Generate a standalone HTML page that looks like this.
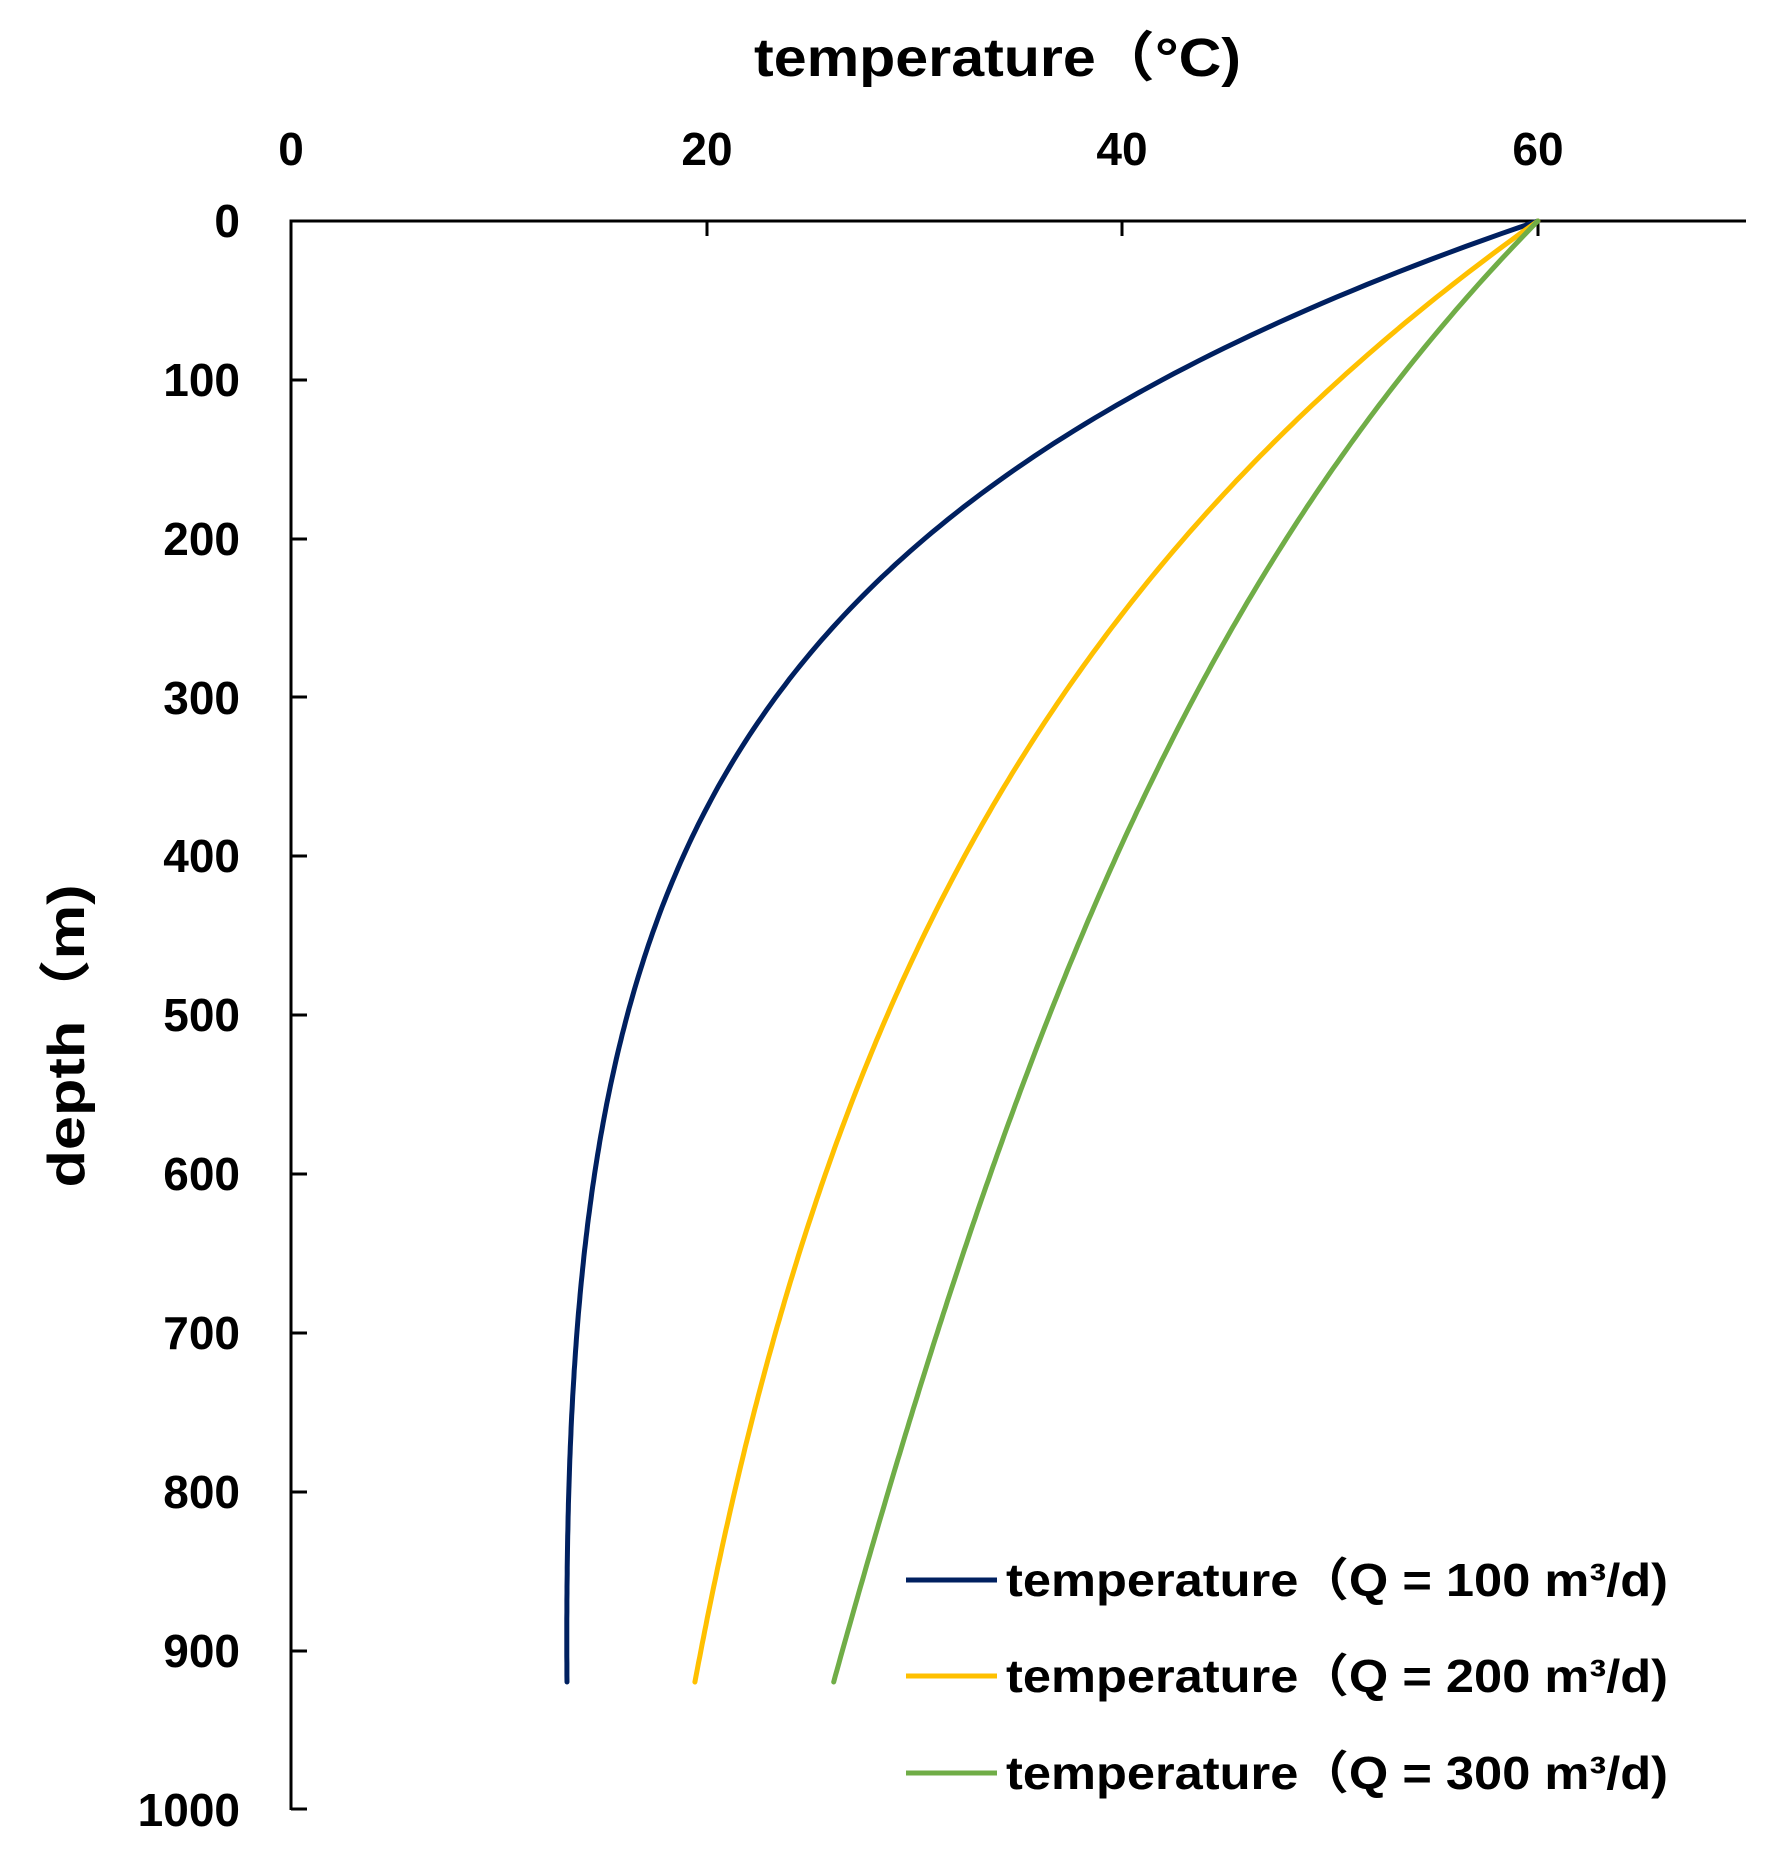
<!DOCTYPE html>
<html><head><meta charset="utf-8"><style>
html,body{margin:0;padding:0;background:#fff;}
svg{display:block;}
text{font-family:"Liberation Sans","Noto Sans CJK SC",sans-serif;font-weight:bold;fill:#000;}
</style></head><body>
<svg id="s" width="1781" height="1864" viewBox="0 0 1781 1864" xmlns="http://www.w3.org/2000/svg">
<rect width="1781" height="1864" fill="#fff"/>
<text x="754" y="76" font-size="54" textLength="487" lengthAdjust="spacingAndGlyphs">temperature（°C)</text>
<g font-size="46" text-anchor="middle">
<text x="291" y="165">0</text><text x="707" y="165">20</text><text x="1122" y="165">40</text><text x="1538" y="165">60</text>
</g>
<g font-size="46" text-anchor="end">
<text x="240" y="237">0</text>
<text x="240" y="396">100</text>
<text x="240" y="555">200</text>
<text x="240" y="714">300</text>
<text x="240" y="872">400</text>
<text x="240" y="1031">500</text>
<text x="240" y="1190">600</text>
<text x="240" y="1349">700</text>
<text x="240" y="1508">800</text>
<text x="240" y="1667">900</text>
<text x="240" y="1826">1000</text>
</g>
<text transform="translate(84,1036) rotate(-90)" font-size="52" text-anchor="middle" textLength="303" lengthAdjust="spacingAndGlyphs">depth（m)</text>
<g stroke="#000" stroke-width="3" fill="none">
<line x1="291" y1="221" x2="1746" y2="221"/>
<line x1="291" y1="219.5" x2="291" y2="1810"/>
<line x1="707" y1="221" x2="707" y2="236"/>
<line x1="1122" y1="221" x2="1122" y2="236"/>
<line x1="1538" y1="221" x2="1538" y2="236"/>
<line x1="291" y1="380" x2="307" y2="380"/>
<line x1="291" y1="539" x2="307" y2="539"/>
<line x1="291" y1="697" x2="307" y2="697"/>
<line x1="291" y1="856" x2="307" y2="856"/>
<line x1="291" y1="1015" x2="307" y2="1015"/>
<line x1="291" y1="1174" x2="307" y2="1174"/>
<line x1="291" y1="1333" x2="307" y2="1333"/>
<line x1="291" y1="1492" x2="307" y2="1492"/>
<line x1="291" y1="1651" x2="307" y2="1651"/>
<line x1="291" y1="1809" x2="307" y2="1809"/>
</g>
<g id="curves" fill="none" stroke-width="5" stroke-linejoin="round" stroke-linecap="round">
<polyline stroke="#002060" points="1538,221 1363,285 1234,340 1143,400 898,556 771,688 690,839 638,977 604,1150 584,1300 570,1490 562,1685"/>
<polyline stroke="#FFC000" points="1538,221 1434,310 1325,400 1169,556 1037,729 967,839 915,954 869,1081 788,1300 738,1490 697,1685"/>
<polyline stroke="#70AD47" points="1538,221 1461,310 1389,400 1273,556 1169,735 1112,862 1048,1023 996,1179 944,1300 886,1490 836,1685"/>
</g>
<g stroke-width="5">
<line x1="906" y1="1580" x2="997" y2="1580" stroke="#002060"/>
<line x1="906" y1="1676" x2="997" y2="1676" stroke="#FFC000"/>
<line x1="906" y1="1773" x2="997" y2="1773" stroke="#70AD47"/>
</g>
<g font-size="46">
<text x="1006" y="1596" textLength="662" lengthAdjust="spacingAndGlyphs">temperature（Q = 100 m³/d)</text>
<text x="1006" y="1692" textLength="662" lengthAdjust="spacingAndGlyphs">temperature（Q = 200 m³/d)</text>
<text x="1006" y="1789" textLength="662" lengthAdjust="spacingAndGlyphs">temperature（Q = 300 m³/d)</text>
</g>
</svg>
<script>
(function(){
var ns="http://www.w3.org/2000/svg";
var data=[
 ["#002060",[[0,60],[113,41.0],[211,29.2],[294,23.1],[389,19.2],[476,16.7],[585,15.1],[679,14.1],[800,13.5],[920,13.0]]],
 ["#FFC000",[[0,60],[113,49.7],[211,42.25],[320,35.9],[389,32.5],[462,30.0],[542,27.8],[679,23.9],[800,21.1],[920,19.5]]],
 ["#70AD47",[[0,60],[113,52.8],[211,47.3],[324,42.3],[404,39.5],[505,36.4],[603,33.9],[679,31.6],[800,28.5],[920,26.2]]]
];
function solve3(A,b){
 var M=A.map((r,i)=>r.concat([b[i]]));
 for(var i=0;i<3;i++){var p=i;for(var k=i+1;k<3;k++)if(Math.abs(M[k][i])>Math.abs(M[p][i]))p=k;
  var t=M[i];M[i]=M[p];M[p]=t;
  for(k=0;k<3;k++)if(k!=i){var f=M[k][i]/M[i][i];for(var j=i;j<4;j++)M[k][j]-=f*M[i][j];}}
 return [M[0][3]/M[0][0],M[1][3]/M[1][1],M[2][3]/M[2][2]];
}
function fit(pts){
 var best=null;
 for(var L=40;L<=3000;L+=5){
  var A=[[0,0,0],[0,0,0],[0,0,0]],b=[0,0,0];
  pts.forEach(function(p,i){var w=i==0?50:1;var v=[1,Math.exp(-p[0]/L),p[0]/1000];
   for(var r=0;r<3;r++){b[r]+=w*v[r]*p[1];for(var c=0;c<3;c++)A[r][c]+=w*v[r]*v[c];}});
  var co=solve3(A,b),e=0;
  pts.forEach(function(p){var d=co[0]+co[1]*Math.exp(-p[0]/L)+co[2]*p[0]/1000-p[1];e+=d*d;});
  if(!best||e<best.e)best={e:e,co:co,L:L};
 }
 return function(z){return best.co[0]+best.co[1]*Math.exp(-z/best.L)+best.co[2]*z/1000;};
}
var g=document.getElementById("curves");
while(g.firstChild)g.removeChild(g.firstChild);
data.forEach(function(c){
 var f=fit(c[1]),pts=[];
 for(var z=0;z<=920;z+=4){pts.push((291+f(z)*20.78).toFixed(1)+","+(221+z*1.588).toFixed(1));}
 var pl=document.createElementNS(ns,"polyline");
 pl.setAttribute("points",pts.join(" "));pl.setAttribute("stroke",c[0]);
 g.appendChild(pl);
});
})();
</script>
</body></html>
